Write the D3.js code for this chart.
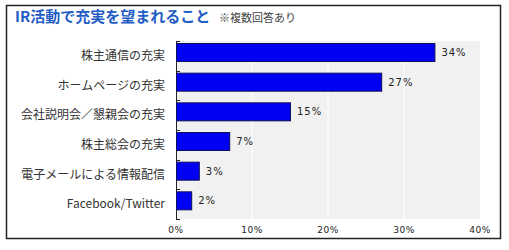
<!DOCTYPE html>
<html>
<head>
<meta charset="utf-8">
<script src="https://cdn.jsdelivr.net/npm/d3@7"></script>
<style>
  body { margin: 0; background: #fff; }
  text { font-family: "Noto Sans CJK JP", "Noto Sans", sans-serif; }
</style>
</head>
<body>
<div id="chart"></div>
<script>
// data
var categories = ["株主通信の充実", "ホームページの充実", "会社説明会／懇親会の充実", "株主総会の充実", "電子メールによる情報配信", "Facebook/Twitter"];
var values = [34, 27, 15, 7, 3, 2];
var xTicks = [0, 10, 20, 30, 40];

var width = 509, height = 250;
var svg = d3.select('#chart').append('svg')
    .attr('width', width)
    .attr('height', height);

// frame
svg.append('rect')
    .attr('x', 6.5).attr('y', 5.5)
    .attr('width', 494).attr('height', 233)
    .style('fill', '#fff')
    .style('stroke', '#222')
    .attr('stroke-width', 1.5);

// title
svg.append('text')
    .attr('x', 15).attr('y', 22)
    .style('font-size', '15px')
    .style('font-weight', 'bold')
    .style('fill', '#1f5cc4')
    .text('IR活動で充実を望まれること');

svg.append('text')
    .attr('x', 219).attr('y', 22)
    .style('font-size', '11px')
    .style('fill', '#444')
    .text('※複数回答あり');

var x = d3.scaleLinear().domain([0, 40]).range([176, 480]);
var y = d3.scaleBand().domain(categories).range([41, 219]);

// plot background
svg.append('rect')
    .attr('x', x(0)).attr('y', y.range()[0])
    .attr('width', x(40) - x(0))
    .attr('height', y.range()[1] - y.range()[0])
    .style('fill', '#f1f1f1');

// grid lines
svg.selectAll('.grid')
    .data(xTicks.slice(1, -1))
    .enter().append('line')
    .attr('class', 'grid')
    .attr('x1', function (d) { return x(d); })
    .attr('x2', function (d) { return x(d); })
    .attr('y1', y.range()[0])
    .attr('y2', y.range()[1])
    .style('stroke', '#fff')
    .attr('stroke-width', 1);

// y axis line and ticks
svg.append('line')
    .attr('x1', x(0) + 0.5).attr('x2', x(0) + 0.5)
    .attr('y1', y.range()[0]).attr('y2', y.range()[1] + 1)
    .style('stroke', '#222');

var tickPos = categories.map(function (c) { return y(c); }).concat([y.range()[1]]);
svg.selectAll('.ytick')
    .data(tickPos)
    .enter().append('line')
    .attr('class', 'ytick')
    .attr('x1', x(0)).attr('x2', x(0) + 4)
    .attr('y1', function (d) { return Math.round(d) + 0.5; })
    .attr('y2', function (d) { return Math.round(d) + 0.5; })
    .style('stroke', '#222');

// bars
svg.selectAll('.bar')
    .data(values)
    .enter().append('rect')
    .attr('class', 'bar')
    .attr('x', x(0) + 0.5)
    .attr('y', function (d, i) { return y(categories[i]) + 2.5; })
    .attr('width', function (d) { return x(d) - x(0); })
    .attr('height', 18)
    .style('fill', '#0000f2')
    .style('stroke', '#10105a')
    .attr('stroke-width', 1);

// value labels
svg.selectAll('.val')
    .data(values)
    .enter().append('text')
    .attr('class', 'val')
    .attr('x', function (d) { return x(d) + 7; })
    .attr('y', function (d, i) { return y(categories[i]) + 15; })
    .style('font-family', 'DejaVu Sans')
    .style('font-size', '10px')
    .style('letter-spacing', '1px')
    .style('fill', '#222')
    .text(function (d) { return d + '%'; });

// category labels
svg.selectAll('.label')
    .data(categories)
    .enter().append('text')
    .attr('class', 'label')
    .attr('x', 165)
    .attr('y', function (d) { return y(d) + y.bandwidth() / 2 + 4; })
    .attr('text-anchor', 'end')
    .style('font-size', '12px')
    .style('fill', '#333')
    .text(function (d) { return d; });

// x tick labels
svg.selectAll('.xlab')
    .data(xTicks)
    .enter().append('text')
    .attr('class', 'xlab')
    .attr('x', function (d) { return x(d); })
    .attr('y', 233)
    .attr('text-anchor', 'middle')
    .style('font-family', 'DejaVu Sans')
    .style('font-size', '9px')
    .style('letter-spacing', '0.5px')
    .style('fill', '#222')
    .text(function (d) { return d + '%'; });
</script>
</body>
</html>
